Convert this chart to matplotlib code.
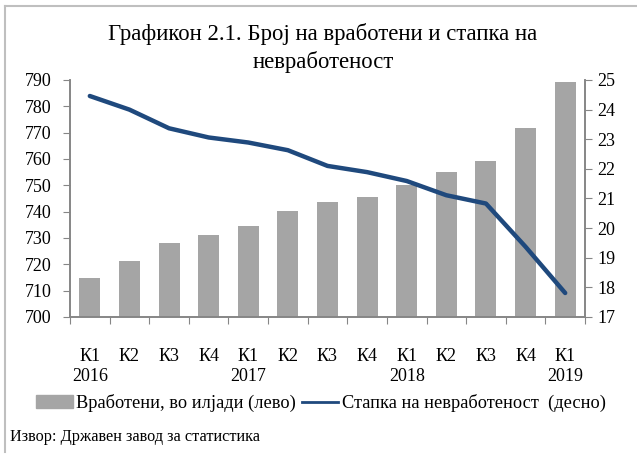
import matplotlib.pyplot as plt
import numpy as np
from matplotlib.lines import Line2D
from matplotlib.patches import Patch

plt.rcParams["font.family"] = ["Liberation Serif", "DejaVu Serif"]

quarters = ["К1", "К2", "К3", "К4", "К1", "К2", "К3", "К4", "К1", "К2", "К3", "К4", "К1"]
years = ["2016", "", "", "", "2017", "", "", "", "2018", "", "", "", "2019"]
employed = [714.7, 721.2, 728.0, 731.1, 734.5, 740.2, 743.6, 745.5, 750.1, 755.0, 759.3, 771.7, 789.2]
unemployment = [24.46, 24.0, 23.37, 23.06, 22.89, 22.63, 22.1, 21.89, 21.59, 21.11, 20.83, 19.37, 17.81]

bar_color = "#A5A5A5"
line_color = "#1F497D"
axis_color = "#868686"

fig = plt.figure(figsize=(6.37, 4.55), dpi=100)
ax = fig.add_axes([70 / 637, 1 - 317 / 455, 515 / 637, 237 / 455])
ax2 = ax.twinx()

x = np.arange(len(quarters))
ax.bar(x, employed, width=0.53, color=bar_color, zorder=2)
ax2.plot(x, unemployment, color=line_color, lw=3.2, solid_capstyle="round", zorder=3)

ax.set_xlim(-0.5, len(quarters) - 0.5)
ax.set_ylim(700, 790)
ax.set_yticks(np.arange(700, 791, 10))
ax2.set_ylim(17, 25)
ax2.set_yticks(np.arange(17, 26, 1))

# category boundaries get the tick marks, labels sit at bar centres
ax.set_xticks(np.arange(-0.5, len(quarters), 1))
ax.set_xticklabels([])
ax.set_xticks(x, minor=True)
ax.set_xticklabels([f"{q}\n{y}" for q, y in zip(quarters, years)], minor=True,
                   fontsize=13, linespacing=1.3)
ax.tick_params(axis="x", which="minor", length=0, pad=22)
ax.tick_params(axis="x", which="major", length=5, color=axis_color, direction="out")
ax.tick_params(axis="y", length=5, color=axis_color, labelsize=13, pad=8)
ax2.tick_params(axis="y", length=5, color=axis_color, labelsize=13, pad=4)

for a in (ax, ax2):
    a.spines["top"].set_visible(False)
    for s in ("left", "right", "bottom"):
        a.spines[s].set_color(axis_color)
        a.spines[s].set_linewidth(1.2)

fig.text(323 / 637, 1 - 48 / 455, "Графикон 2.1. Број на вработени и стапка на\nневработеност",
         ha="center", va="center", fontsize=16.4, linespacing=1.3)

handles = [Patch(color=bar_color), Line2D([], [], color=line_color, lw=2)]
labels = ["Вработени, во илјади (лево)", "Стапка на невработеност  (десно)"]
fig.legend(handles, labels, loc="center", bbox_to_anchor=(321 / 637, 1 - 403 / 455),
           ncol=2, frameon=False, fontsize=13.2, handlelength=2.0, handleheight=0.7,
           handletextpad=0.2, columnspacing=0.3)

fig.text(10 / 637, 1 - 437 / 455, "Извор: Државен завод за статистика", ha="left",
         va="center", fontsize=11.7)

# frame around the chart (top and left only)
fig.add_artist(Line2D([5 / 637, 1], [1 - 6 / 455, 1 - 6 / 455], color="#BFBFBF", lw=1.5))
fig.add_artist(Line2D([5 / 637, 5 / 637], [1 - 6 / 455, 1 - 452 / 455], color="#BFBFBF", lw=1.5))

fig.savefig("out.png", dpi=100)
